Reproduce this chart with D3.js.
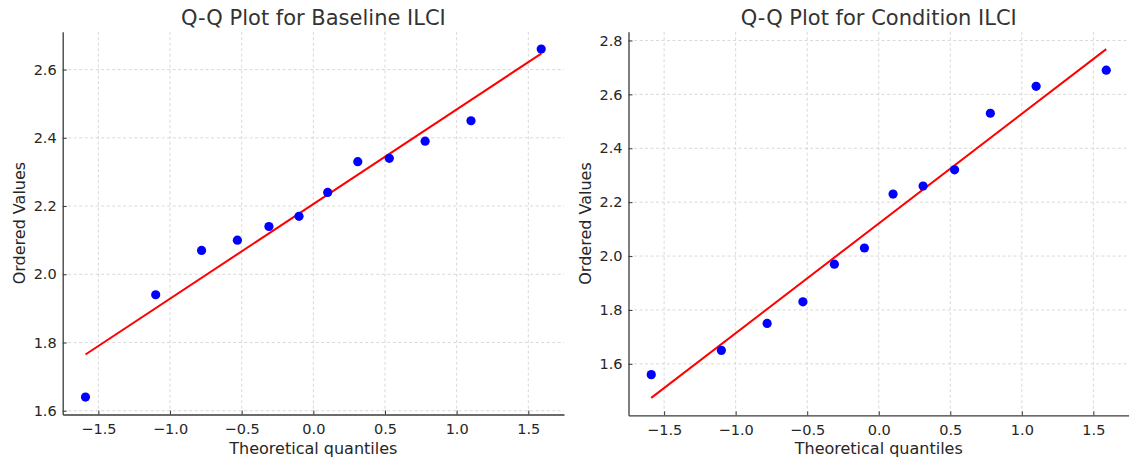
<!DOCTYPE html>
<html>
<head>
<meta charset="utf-8">
<script src="https://cdn.jsdelivr.net/npm/d3@7"></script>
<style>
  html, body { margin: 0; padding: 0; background: #fff; }
  svg { display: block; font-family: "DejaVu Sans", sans-serif; }
</style>
</head>
<body>
<svg id="chart" width="1129" height="461"></svg>
<script>
// Theoretical normal quantiles for a sample of 12
const quantiles = [-1.59, -1.10, -0.78, -0.53, -0.31, -0.10, 0.10, 0.31, 0.53, 0.78, 1.10, 1.59];

// Ordered sample values
const baselineValues  = [1.64, 1.94, 2.07, 2.10, 2.14, 2.17, 2.24, 2.33, 2.34, 2.39, 2.45, 2.66];
const conditionValues = [1.56, 1.65, 1.75, 1.83, 1.97, 2.03, 2.23, 2.26, 2.32, 2.53, 2.63, 2.69];

const titles = ["Q-Q Plot for Baseline ILCI", "Q-Q Plot for Condition ILCI"];
const xTicks = [-1.5, -1.0, -0.5, 0.0, 0.5, 1.0, 1.5];
const yTicksBaseline  = [1.6, 1.8, 2.0, 2.2, 2.4, 2.6];
const yTicksCondition = [1.6, 1.8, 2.0, 2.2, 2.4, 2.6, 2.8];

const svg = d3.select("#chart");
const fmt = d3.format(".1f");

// least-squares line through the quantile/value pairs
function fitLine(xs, ys) {
  const mx = d3.mean(xs), my = d3.mean(ys);
  let sxy = 0, sxx = 0;
  xs.forEach((x, i) => { sxy += (x - mx) * (ys[i] - my); sxx += (x - mx) * (x - mx); });
  const slope = sxy / sxx;
  return { slope, intercept: my - slope * mx };
}

function padded(lo, hi) {
  const p = (hi - lo) * 0.05;
  return [lo - p, hi + p];
}

function panel(box, values, yTicks, title) {
  const fit = fitLine(quantiles, values);
  const x0 = d3.min(quantiles), x1 = d3.max(quantiles);
  const lineYs = [fit.intercept + fit.slope * x0, fit.intercept + fit.slope * x1];

  const x = d3.scaleLinear().domain(padded(x0, x1)).range([box.left, box.right]);
  const yExt = d3.extent(values.concat(lineYs));
  const y = d3.scaleLinear().domain(padded(yExt[0], yExt[1])).range([box.bottom, box.top]);

  const g = svg.append("g");

  // dashed grid
  g.append("g").selectAll("line").data(xTicks).join("line")
    .attr("x1", d => x(d)).attr("x2", d => x(d))
    .attr("y1", box.top).attr("y2", box.bottom)
    .attr("stroke", "#cfcfcf").attr("stroke-width", 0.8).attr("stroke-dasharray", "3,2.5");
  g.append("g").selectAll("line").data(yTicks).join("line")
    .attr("x1", box.left).attr("x2", box.right)
    .attr("y1", d => y(d)).attr("y2", d => y(d))
    .attr("stroke", "#cfcfcf").attr("stroke-width", 0.8).attr("stroke-dasharray", "3,2.5");

  // axes (ticks point inward)
  const xAxis = d3.axisBottom(x).tickValues(xTicks).tickFormat(fmt).tickSizeInner(-4).tickSizeOuter(0).tickPadding(9);
  const yAxis = d3.axisLeft(y).tickValues(yTicks).tickFormat(fmt).tickSizeInner(-4).tickSizeOuter(0).tickPadding(6);

  const gx = g.append("g").attr("transform", `translate(0,${box.bottom})`).call(xAxis);
  const gy = g.append("g").attr("transform", `translate(${box.left},0)`).call(yAxis);
  [gx, gy].forEach(a => {
    a.select(".domain").attr("stroke", "#3a3a3a").attr("stroke-width", 1.3);
    a.selectAll(".tick line").attr("stroke", "#3a3a3a").attr("stroke-width", 1);
    a.selectAll(".tick text").attr("fill", "#262626").style("font-size", "14.5px")
      .style("font-family", "'DejaVu Sans', sans-serif");
  });

  // fitted reference line
  g.append("line")
    .attr("x1", x(x0)).attr("y1", y(lineYs[0]))
    .attr("x2", x(x1)).attr("y2", y(lineYs[1]))
    .attr("stroke", "#ff0000").attr("stroke-width", 2);

  // sample points
  g.append("g").selectAll("circle").data(values).join("circle")
    .attr("cx", (d, i) => x(quantiles[i])).attr("cy", d => y(d))
    .attr("r", 4.6).attr("fill", "#0000ff");

  // titles and labels
  const cx = (box.left + box.right) / 2;
  g.append("text").attr("x", cx).attr("y", 25).attr("text-anchor", "middle")
    .attr("fill", "#333").style("font-size", "21px").text(title);
  g.append("text").attr("x", cx).attr("y", 454).attr("text-anchor", "middle")
    .attr("fill", "#262626").style("font-size", "16px").text("Theoretical quantiles");
  g.append("text")
    .attr("transform", `translate(${box.left - 38},${(box.top + box.bottom) / 2}) rotate(-90)`)
    .attr("text-anchor", "middle").attr("fill", "#262626").style("font-size", "16px")
    .text("Ordered Values");
}

panel({ left: 62.7, right: 564, top: 31.7, bottom: 414.5 }, baselineValues, yTicksBaseline, titles[0]);
panel({ left: 628.5, right: 1129, top: 31.7, bottom: 415.3 }, conditionValues, yTicksCondition, titles[1]);
</script>
</body>
</html>
